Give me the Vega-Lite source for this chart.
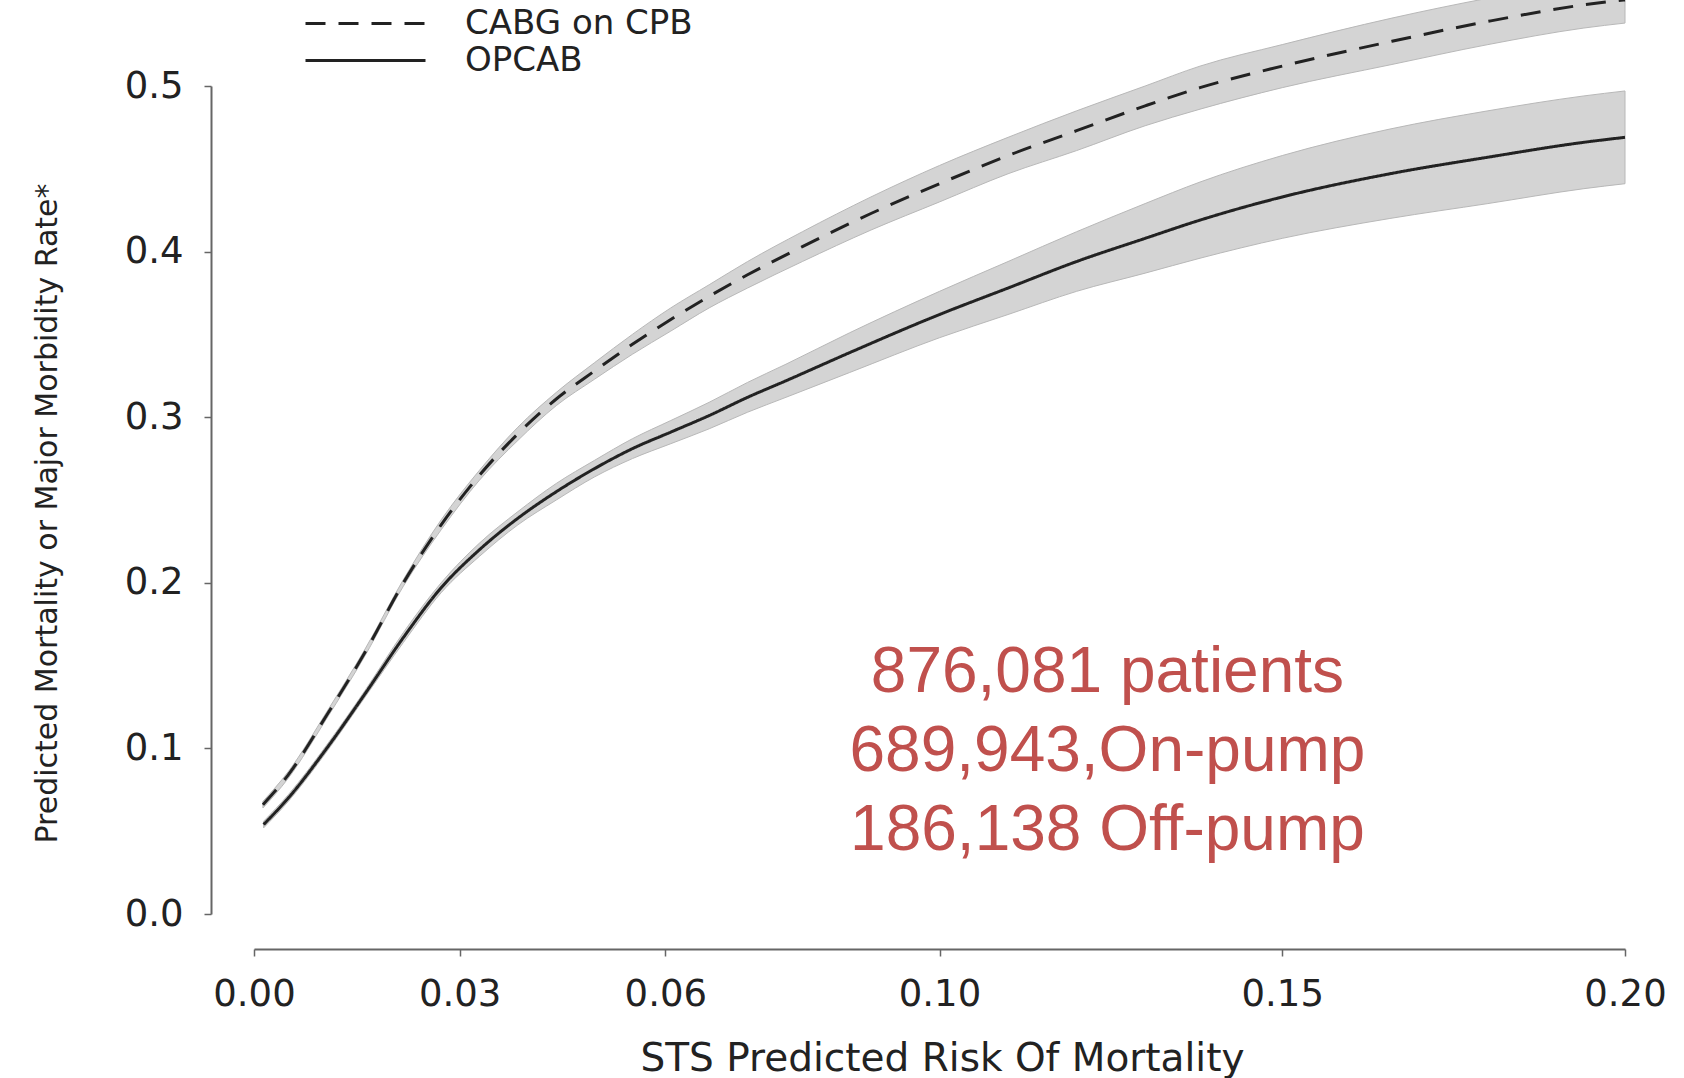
{
  "$schema": "https://vega.github.io/schema/vega-lite/v6.json",
  "width": 1371,
  "height": 828,
  "autosize": {"type": "none"},
  "padding": {"left": 254, "top": 86, "right": 59, "bottom": 164},
  "background": "white",
  "config": {
    "view": {"stroke": null},
    "axis": {"grid": false, "domainColor": "#666666", "domainWidth": 2, "tickColor": "#666666", "tickWidth": 1.5, "tickSize": 7, "labelColor": "#222222", "labelFont": "DejaVu Sans", "labelFontSize": 37, "labelFlush": false, "titleColor": "#222222", "titleFont": "DejaVu Sans", "titleFontWeight": "normal"}
  },
  "datasets": {
    "curves": [
      {"series": "CABG on CPB", "x": 0.0013, "y": 0.066, "lo": 0.064, "hi": 0.068},
      {"series": "CABG on CPB", "x": 0.005, "y": 0.084, "lo": 0.082, "hi": 0.086},
      {"series": "CABG on CPB", "x": 0.0106, "y": 0.120, "lo": 0.118, "hi": 0.122},
      {"series": "CABG on CPB", "x": 0.0162, "y": 0.158, "lo": 0.156, "hi": 0.160},
      {"series": "CABG on CPB", "x": 0.0218, "y": 0.200, "lo": 0.198, "hi": 0.202},
      {"series": "CABG on CPB", "x": 0.0273, "y": 0.235, "lo": 0.232, "hi": 0.238},
      {"series": "CABG on CPB", "x": 0.0329, "y": 0.265, "lo": 0.262, "hi": 0.268},
      {"series": "CABG on CPB", "x": 0.0385, "y": 0.290, "lo": 0.286, "hi": 0.294},
      {"series": "CABG on CPB", "x": 0.0441, "y": 0.311, "lo": 0.307, "hi": 0.315},
      {"series": "CABG on CPB", "x": 0.0497, "y": 0.328, "lo": 0.323, "hi": 0.333},
      {"series": "CABG on CPB", "x": 0.0552, "y": 0.344, "lo": 0.338, "hi": 0.350},
      {"series": "CABG on CPB", "x": 0.0608, "y": 0.359, "lo": 0.352, "hi": 0.366},
      {"series": "CABG on CPB", "x": 0.0664, "y": 0.373, "lo": 0.366, "hi": 0.380},
      {"series": "CABG on CPB", "x": 0.072, "y": 0.386, "lo": 0.378, "hi": 0.394},
      {"series": "CABG on CPB", "x": 0.080, "y": 0.403, "lo": 0.394, "hi": 0.412},
      {"series": "CABG on CPB", "x": 0.090, "y": 0.423, "lo": 0.413, "hi": 0.433},
      {"series": "CABG on CPB", "x": 0.100, "y": 0.441, "lo": 0.430, "hi": 0.452},
      {"series": "CABG on CPB", "x": 0.110, "y": 0.458, "lo": 0.447, "hi": 0.469},
      {"series": "CABG on CPB", "x": 0.120, "y": 0.473, "lo": 0.461, "hi": 0.485},
      {"series": "CABG on CPB", "x": 0.130, "y": 0.488, "lo": 0.476, "hi": 0.500},
      {"series": "CABG on CPB", "x": 0.138, "y": 0.499, "lo": 0.486, "hi": 0.512},
      {"series": "CABG on CPB", "x": 0.150, "y": 0.512, "lo": 0.499, "hi": 0.525},
      {"series": "CABG on CPB", "x": 0.166, "y": 0.527, "lo": 0.513, "hi": 0.541},
      {"series": "CABG on CPB", "x": 0.180, "y": 0.539, "lo": 0.525, "hi": 0.553},
      {"series": "CABG on CPB", "x": 0.194, "y": 0.549, "lo": 0.535, "hi": 0.563},
      {"series": "CABG on CPB", "x": 0.200, "y": 0.552, "lo": 0.538, "hi": 0.566},
      {"series": "OPCAB", "x": 0.0014, "y": 0.054, "lo": 0.052, "hi": 0.056},
      {"series": "OPCAB", "x": 0.005, "y": 0.070, "lo": 0.068, "hi": 0.072},
      {"series": "OPCAB", "x": 0.0106, "y": 0.100, "lo": 0.098, "hi": 0.102},
      {"series": "OPCAB", "x": 0.0162, "y": 0.133, "lo": 0.131, "hi": 0.135},
      {"series": "OPCAB", "x": 0.0218, "y": 0.167, "lo": 0.164, "hi": 0.170},
      {"series": "OPCAB", "x": 0.0273, "y": 0.197, "lo": 0.194, "hi": 0.200},
      {"series": "OPCAB", "x": 0.0329, "y": 0.220, "lo": 0.216, "hi": 0.224},
      {"series": "OPCAB", "x": 0.0385, "y": 0.239, "lo": 0.235, "hi": 0.243},
      {"series": "OPCAB", "x": 0.0441, "y": 0.255, "lo": 0.250, "hi": 0.260},
      {"series": "OPCAB", "x": 0.0497, "y": 0.269, "lo": 0.264, "hi": 0.274},
      {"series": "OPCAB", "x": 0.0552, "y": 0.281, "lo": 0.275, "hi": 0.287},
      {"series": "OPCAB", "x": 0.0608, "y": 0.291, "lo": 0.284, "hi": 0.298},
      {"series": "OPCAB", "x": 0.0664, "y": 0.301, "lo": 0.293, "hi": 0.309},
      {"series": "OPCAB", "x": 0.072, "y": 0.312, "lo": 0.303, "hi": 0.321},
      {"series": "OPCAB", "x": 0.0776, "y": 0.322, "lo": 0.312, "hi": 0.332},
      {"series": "OPCAB", "x": 0.0869, "y": 0.339, "lo": 0.327, "hi": 0.351},
      {"series": "OPCAB", "x": 0.100, "y": 0.362, "lo": 0.348, "hi": 0.376},
      {"series": "OPCAB", "x": 0.110, "y": 0.378, "lo": 0.362, "hi": 0.394},
      {"series": "OPCAB", "x": 0.120, "y": 0.394, "lo": 0.376, "hi": 0.412},
      {"series": "OPCAB", "x": 0.130, "y": 0.408, "lo": 0.387, "hi": 0.429},
      {"series": "OPCAB", "x": 0.138, "y": 0.419, "lo": 0.396, "hi": 0.442},
      {"series": "OPCAB", "x": 0.150, "y": 0.433, "lo": 0.408, "hi": 0.458},
      {"series": "OPCAB", "x": 0.1657, "y": 0.447, "lo": 0.420, "hi": 0.474},
      {"series": "OPCAB", "x": 0.180, "y": 0.457, "lo": 0.429, "hi": 0.485},
      {"series": "OPCAB", "x": 0.194, "y": 0.466, "lo": 0.438, "hi": 0.494},
      {"series": "OPCAB", "x": 0.200, "y": 0.469, "lo": 0.441, "hi": 0.497}
    ],
    "notes": [
      {"x": 0.1245, "y": 0.134, "label": "876,081 patients"},
      {"x": 0.1245, "y": 0.0864, "label": "689,943,On-pump"},
      {"x": 0.1245, "y": 0.0386, "label": "186,138 Off-pump"}
    ]
  },
  "layer": [
    {
      "data": {"name": "curves"},
      "mark": {"type": "area", "interpolate": "monotone", "fill": "#d4d4d4", "stroke": "#b8b8b8", "strokeWidth": 1},
      "encoding": {
        "x": {"field": "x", "type": "quantitative", "scale": {"domain": [0, 0.2], "nice": false, "zero": false},
          "axis": {"values": [0, 0.03, 0.06, 0.1, 0.15, 0.2], "format": ".2f", "offset": 35, "labelPadding": 20,
            "title": "STS Predicted Risk Of Mortality", "titleFontSize": 39, "titleX": 688, "titleY": 90, "titleBaseline": "top", "titleAlign": "center"}},
        "y": {"field": "lo", "type": "quantitative", "scale": {"domain": [0, 0.5], "nice": false},
          "axis": {"values": [0, 0.1, 0.2, 0.3, 0.4, 0.5], "format": ".1f", "offset": 43, "labelPadding": 21,
            "title": "Predicted Mortality or Major Morbidity Rate*", "titleFontSize": 30, "titleAngle": 270, "titleX": -149, "titleY": 427, "titleBaseline": "bottom", "titleAlign": "center"}},
        "y2": {"field": "hi"},
        "detail": {"field": "series"}
      }
    },
    {
      "data": {"name": "curves"},
      "mark": {"type": "line", "interpolate": "monotone", "color": "#222222", "strokeWidth": 3},
      "encoding": {
        "x": {"field": "x", "type": "quantitative"},
        "y": {"field": "y", "type": "quantitative"},
        "strokeDash": {"field": "series", "type": "nominal",
          "scale": {"domain": ["CABG on CPB", "OPCAB"], "range": [[20, 13], [1, 0]]},
          "legend": {"orient": "none", "legendX": 50, "legendY": -81, "title": null, "symbolType": "stroke", "symbolSize": 14400,
            "symbolStrokeWidth": 3, "symbolStrokeColor": "#222222", "labelFont": "DejaVu Sans", "labelFontSize": 34, "labelColor": "#222222",
            "labelOffset": 38, "labelLimit": 0, "rowPadding": 0, "clipHeight": 37, "padding": 0,
            "encode": {"symbols": {"update": {"strokeDash": {"signal": "datum.value === 'CABG on CPB' ? [31, 18] : [1, 0]"}}}}}
        }
      }
    },
    {
      "data": {"name": "notes"},
      "mark": {"type": "text", "font": "Liberation Sans", "fontSize": 64, "color": "#C0504D", "align": "center", "baseline": "alphabetic"},
      "encoding": {
        "x": {"field": "x", "type": "quantitative"},
        "y": {"field": "y", "type": "quantitative"},
        "text": {"field": "label"}
      }
    }
  ]
}
